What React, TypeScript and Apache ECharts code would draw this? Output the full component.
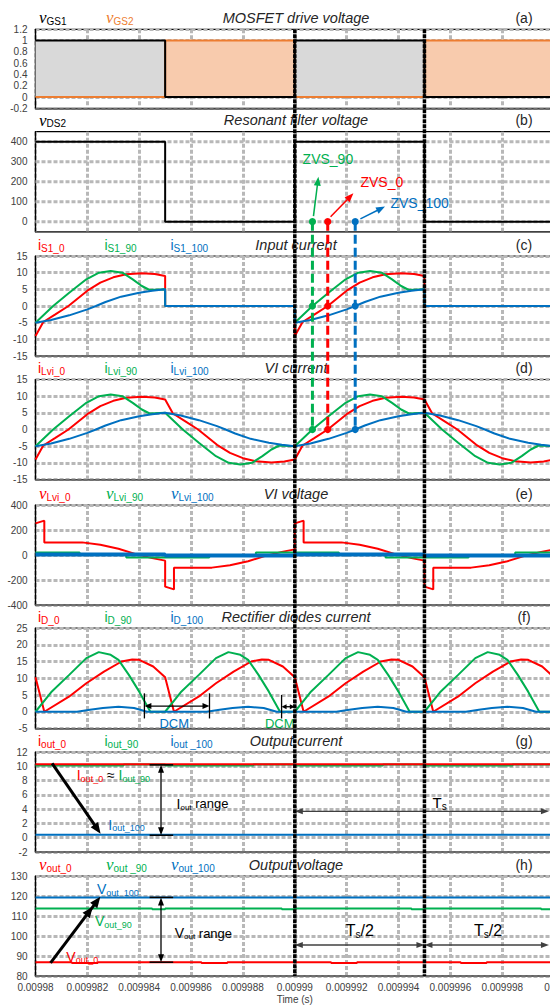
import React, { useEffect, useRef } from 'react';
import * as echarts from 'echarts';

// ---------- time base (µs; axis labels shown in seconds) ----------
const T0 = 9980;
const T_END = 10000;
const X_STEP = 2;
const PERIOD = 10;
const HALF = 5;

// ---------- (a) MOSFET drive voltage ----------
const tGate = [0, 5, 5, 10];
const vGS1 = [1, 1, 0, 0];
const vGS2 = [0, 0, 1, 1];

// ---------- (b) Resonant filter voltage ----------
const vDS2 = [400, 400, 0, 0];
const vDS2Ticks = [0, 100, 200, 300, 400];

// ---------- (c)/(d) VI current (one period) ----------
const tILvi0 = [0, 0.3, 0.75, 1.27, 2, 2.5, 3, 3.5, 4.1, 4.6, 5, 5.3, 5.75, 6.27, 7, 7.5, 8, 8.5, 9.1, 9.6, 10];
const iLvi0 = [-9, -4.8, -2.6, 0, 4.6, 7, 8.6, 9.5, 9.8, 9.6, 9, 4.8, 2.6, 0, -4.6, -7, -8.6, -9.5, -9.9, -9.6, -9];
const tILvi90 = [0, 0.68, 1.3, 1.96, 2.45, 2.9, 3.35, 3.75, 4.1, 4.4, 5, 5.68, 6.3, 6.96, 7.45, 7.9, 8.35, 8.75, 9.1, 9.4, 10];
const iLvi90 = [-5, 0, 4, 8, 10, 10.5, 10, 8, 6, 4.8, 5, 0, -4, -8, -10, -10.5, -10, -8, -6, -4.8, -5];
const tILvi100 = [0, 0.6, 1.3, 2, 2.33, 2.7, 3.3, 4, 4.5, 5, 5.6, 6.3, 7, 7.33, 7.7, 8.3, 9, 9.5, 10];
const iLvi100 = [-5, -4.2, -2.8, -1, 0, 1.2, 2.8, 4, 4.6, 5, 4.2, 2.8, 1, 0, -1.2, -2.8, -4, -4.6, -5];

// ---------- (e) VI voltage (one period) ----------
const tVLvi0 = [0, 0.34, 0.34, 1.8, 2.5, 3.2, 3.9, 4.5, 5, 5, 5.34, 5.34, 6.8, 7.5, 8.2, 8.9, 9.5, 10];
const vLvi0 = [253, 275, 101, 101, 82, 50, 5, -25, -45, -253, -275, -101, -101, -82, -50, -5, 25, 45];
const tVLvi90 = [0, 1.7, 1.7, 3.5, 3.5, 6.7, 6.7, 8.5, 8.5, 10];
const vLvi90 = [20, 20, 0, 0, -20, -20, 0, 0, 20, 20];
const tVLvi100 = [0, 5, 5, 10];
const vLvi100 = [4, 4, -4, -4];

// ---------- (f) Rectifier diodes current (half period) ----------
const tID0 = [0, 0.34, 1.29, 1.96, 2.64, 3.32, 3.73, 4.0, 4.54, 5];
const iD0 = [10.3, 0, 4.5, 8.5, 12, 15, 15.6, 15.5, 13.5, 10.3];
const tID90 = [0, 0.6, 1.3, 1.96, 2.44, 2.9, 3.2, 3.6, 4.0, 4.43, 5];
const iD90 = [0, 5.8, 11, 16, 17.8, 17, 15.5, 11, 6, 0, 0];
const tID100 = [0, 1.6, 2.1, 2.6, 3.2, 3.8, 4.3, 5];
const iD100 = [0, 0, 0.6, 1.1, 1.5, 1.1, 0, 0];

// ---------- (g) Output current (half period) ----------
const tOut = [0, 5];
const iOut0 = [10.3, 10.3];
const tIOut90 = [0, 3.4, 3.4, 5];
const iOut90 = [10.12, 10.12, 10.25, 10.25];
const iOut100 = [0.4, 0.4];

// ---------- (h) Output voltage (half period) ----------
const tVOut0 = [0, 1.4, 1.4, 2.4, 2.4, 5];
const vOut0 = [86.9, 86.9, 86.5, 86.5, 86.9, 86.9];
const tVOut90 = [0, 4.5, 4.5, 5];
const vOut90 = [113.8, 113.8, 113.4, 113.4];
const vOut100 = [119.3, 119.3];

// ---------- annotation anchors (data coordinates) ----------
const SWITCH_T = [9990, 9995];
const ZVS = [
  { name: 'ZVS_90', t: 9990.68, c: 'green', from: [9990.72, 28], tip: [9990.91, 225], label: [9990.3, 313] },
  { name: 'ZVS_0', t: 9991.27, c: 'red', from: [9991.38, 25], tip: [9992.26, 142], label: [9992.53, 200] },
  { name: 'ZVS_100', t: 9992.33, c: 'blue', from: [9992.53, 14], tip: [9993.48, 76], label: [9993.69, 95] },
];

const TITLES = ['MOSFET drive voltage', 'Resonant filter voltage', 'Input current', 'VI current', 'VI voltage', 'Rectifier diodes current', 'Output current', 'Output voltage'];
const TAGS = ['(a)', '(b)', '(c)', '(d)', '(e)', '(f)', '(g)', '(h)'];
const LEGENDS = [
  [['v', 'GS1', 'black'], ['v', 'GS2', 'orange']],
  [['v', 'DS2', 'black']],
  [['i', 'S1_0', 'red'], ['i', 'S1_90', 'green'], ['i', 'S1_100', 'blue']],
  [['i', 'Lvi_0', 'red'], ['i', 'Lvi_90', 'green'], ['i', 'Lvi_100', 'blue']],
  [['v', 'Lvi_0', 'red'], ['v', 'Lvi_90', 'green'], ['v', 'Lvi_100', 'blue']],
  [['i', 'D_0', 'red'], ['i', 'D_90', 'green'], ['i', 'D_100', 'blue']],
  [['i', 'out_0', 'red'], ['i', 'out_90', 'green'], ['i', 'out _100', 'blue']],
  [['v', 'out_0', 'red'], ['v', 'out _90', 'green'], ['v', 'out_100', 'blue']],
];

// ---------- layout & style ----------
const W = 550;
const H = 1005;
const GRID_LEFT = 35.5;
const GRID_WIDTH = 518.6;
const GRID_TOP = [29.3, 131.7, 256, 379.5, 505, 628, 752, 876];
const GRID_H = [79, 100, 100, 100, 100, 100.5, 100, 100];
const Y_MIN = [-0.2, -50, -15, -15, -400, -5, -2, 80];
const Y_MAX = [1.2, 450, 15, 15, 400, 25, 12, 130];
const Y_STEP = [0.2, 50, 5, 5, 200, 5, 2, 10];
const COL: Record<string, string> = {
  red: '#ff0000', green: '#00b050', blue: '#0070c0', orange: '#ed7d31', black: '#000000',
};
const GRID_LINE = { color: '#b8b8b8', width: 3, type: [4, 2] };
const FAM = '"Liberation Sans"';
const F_I = `14px ${FAM}`;
const F_V = 'italic 17px "Liberation Serif"';
const F_SUB = `10px ${FAM}`;
const F_SUB9 = `9px ${FAM}`;
const F_TITLE = `italic 14.5px ${FAM}`;

// ---------- helpers ----------
function repeat(ts: number[], vs: number[], period: number) {
  const out: number[][] = [];
  for (let s = T0; s < T_END - 1e-9; s += period) ts.forEach((t, i) => out.push([s + t, vs[i]]));
  return out;
}
function switchOn(ts: number[], vs: number[]) {
  const t: number[] = [];
  const v: number[] = [];
  ts.forEach((x, i) => { if (x <= HALF) { t.push(x); v.push(vs[i]); } });
  t.push(HALF, PERIOD); v.push(0, 0);
  return repeat(t, v, PERIOD);
}
function line(g: number, data: number[][], color: string, width = 2, z = 2, extra: any = {}) {
  return {
    type: 'line', xAxisIndex: g, yAxisIndex: g, data, symbol: 'none', showSymbol: false,
    lineStyle: { color, width }, itemStyle: { color }, z, silent: true, animation: false, ...extra,
  };
}
let _ctx: CanvasRenderingContext2D | null = null;
function tw(text: string, font: string) {
  if (!_ctx) _ctx = document.createElement('canvas').getContext('2d');
  _ctx!.font = font;
  return _ctx!.measureText(text).width;
}
function txt(x: number, y: number, text: string, font: string, fill: string, align = 'left') {
  return {
    type: 'text', z: 100, x, y, silent: true,
    style: { text, font, fill, align, verticalAlign: 'middle', textAlign: align, textVerticalAlign: 'middle' },
  };
}
type Piece = { t: string; f: string; c: string; dy?: number };
function seq(x: number, y: number, pieces: Piece[], center = false) {
  let cx = x;
  if (center) cx -= pieces.reduce((s, p) => s + tw(p.t, p.f), 0) / 2;
  const els: any[] = [];
  pieces.forEach((p) => {
    els.push(txt(cx, y + (p.dy || 0), p.t, p.f, p.c));
    cx += tw(p.t, p.f);
  });
  return els;
}
function seg(a: number[], b: number[], color: string, width: number, dash?: number[]) {
  return {
    type: 'line', z: 100, silent: true,
    shape: { x1: a[0], y1: a[1], x2: b[0], y2: b[1] },
    style: { stroke: color, lineWidth: width, lineDash: dash || null },
  };
}
function head(tip: number[], ux: number, uy: number, hl: number, hw: number, color: string) {
  return {
    type: 'polygon', z: 101, silent: true,
    shape: {
      points: [
        [tip[0], tip[1]],
        [tip[0] - ux * hl - uy * hw / 2, tip[1] - uy * hl + ux * hw / 2],
        [tip[0] - ux * hl + uy * hw / 2, tip[1] - uy * hl - ux * hw / 2],
      ],
    },
    style: { fill: color },
  };
}
function arrow(p1: number[], p2: number[], color: string, width: number, hl: number, hw: number, both = false) {
  const dx = p2[0] - p1[0];
  const dy = p2[1] - p1[1];
  const L = Math.hypot(dx, dy) || 1;
  const ux = dx / L;
  const uy = dy / L;
  const a = both ? [p1[0] + ux * hl * 0.8, p1[1] + uy * hl * 0.8] : p1;
  const b = [p2[0] - ux * hl * 0.8, p2[1] - uy * hl * 0.8];
  const els: any[] = [seg(a, b, color, width), head(p2, ux, uy, hl, hw, color)];
  if (both) els.push(head(p1, -ux, -uy, hl, hw, color));
  return els;
}

function buildOption() {
  const grid = GRID_TOP.map((top, g) => ({
    left: GRID_LEFT, width: GRID_WIDTH, top, height: GRID_H[g],
    outerBoundsMode: 'none', containLabel: false,
    show: true, borderColor: '#000', borderWidth: 1.2, backgroundColor: 'rgba(0,0,0,0)',
  }));
  const xAxis = GRID_TOP.map((_, g) => ({
    type: 'value', gridIndex: g, min: T0, max: T_END, interval: X_STEP,
    axisLine: { show: true, onZero: false, lineStyle: { color: '#595959', width: 1.5 } },
    axisTick: { show: false },
    axisLabel: {
      show: g === 7, fontSize: 10, color: '#404040', margin: 6, fontFamily: 'Liberation Sans',
      formatter: (v: number) => String(+(v / 1e6).toFixed(7)),
    },
    splitLine: { show: true, lineStyle: GRID_LINE },
    name: g === 7 ? 'Time (s)' : '', nameLocation: 'middle', nameGap: 18,
    nameTextStyle: { fontSize: 10, color: '#404040', fontFamily: 'Liberation Sans' },
  }));
  const yAxis = GRID_TOP.map((_, g) => ({
    type: 'value', gridIndex: g, min: Y_MIN[g], max: Y_MAX[g], interval: Y_STEP[g],
    axisLine: { show: true, onZero: false, lineStyle: { color: '#000', width: 1.2 } },
    axisTick: { show: false },
    axisLabel: {
      fontSize: 10, color: '#404040', margin: 8, fontFamily: 'Liberation Sans',
      formatter: (v: number) => {
        if (g === 1) return Math.round(v) % 100 === 0 ? String(Math.round(v)) : '';
        if (g === 0) return String(Math.round(v * 10) / 10);
        return String(Math.round(v));
      },
    },
    splitLine: { show: g !== 1, lineStyle: GRID_LINE },
  }));

  const series: any[] = [
    // (a)
    line(0, repeat(tGate, vGS1, PERIOD), '#000', 0, 1, { lineStyle: { opacity: 0, width: 0 }, areaStyle: { color: '#d9d9d9', opacity: 1 } }),
    line(0, repeat(tGate, vGS2, PERIOD), COL.orange, 0, 1, { lineStyle: { opacity: 0, width: 0 }, areaStyle: { color: '#f8cbad', opacity: 1 } }),
    line(0, repeat(tGate, vGS2, PERIOD), COL.orange, 2, 3),
    line(0, repeat(tGate, vGS1, PERIOD), '#000', 2, 3),
    // (b)
    ...vDS2Ticks.map((v) => line(1, [[T0, v], [T_END, v]], GRID_LINE.color, 3, 1, { lineStyle: { ...GRID_LINE } })),
    line(1, repeat(tGate, vDS2, PERIOD), '#000', 2, 3),
    // (c)
    line(2, switchOn(tILvi0, iLvi0), COL.red),
    line(2, switchOn(tILvi90, iLvi90), COL.green),
    line(2, switchOn(tILvi100, iLvi100), COL.blue),
    // (d)
    line(3, repeat(tILvi0, iLvi0, PERIOD), COL.red),
    line(3, repeat(tILvi90, iLvi90, PERIOD), COL.green),
    line(3, repeat(tILvi100, iLvi100, PERIOD), COL.blue),
    // (e)
    line(4, repeat(tVLvi0, vLvi0, PERIOD), COL.red),
    line(4, repeat(tVLvi90, vLvi90, PERIOD), COL.green),
    line(4, repeat(tVLvi100, vLvi100, PERIOD), COL.blue, 4),
    // (f)
    line(5, repeat(tID0, iD0, HALF), COL.red),
    line(5, repeat(tID90, iD90, HALF), COL.green),
    line(5, repeat(tID100, iD100, HALF), COL.blue),
    // (g)
    line(6, repeat(tIOut90, iOut90, HALF), COL.green),
    line(6, repeat(tOut, iOut0, HALF), COL.red),
    line(6, repeat(tOut, iOut100, HALF), COL.blue),
    // (h)
    line(7, repeat(tVOut0, vOut0, HALF), COL.red),
    line(7, repeat(tVOut90, vOut90, HALF), COL.green),
    line(7, repeat(tOut, vOut100, HALF), COL.blue),
  ];

  return {
    animation: false,
    textStyle: { fontFamily: 'Liberation Sans' },
    grid, xAxis, yAxis, series,
  };
}

function buildGraphics(P: (g: number, t: number, v: number) => number[]) {
  const els: any[] = [];
  const LEG_X_I = [38, 104.5, 170.5];
  const LEG_X_V = [39, 106, 171];

  // headers: legend-like labels, titles, panel tags
  GRID_TOP.forEach((top, g) => {
    const y = top - 11.5;
    els.push(txt(296, y, TITLES[g], F_TITLE, '#262626', 'center'));
    els.push(txt(524, y, TAGS[g], F_I, '#262626', 'center'));
    LEGENDS[g].forEach(([m, s, c], k) => {
      const isV = m === 'v';
      const x = (isV ? LEG_X_V : LEG_X_I)[k];
      els.push(...seq(x, y, [
        { t: m, f: isV ? F_V : F_I, c: COL[c] },
        { t: s, f: F_SUB, c: COL[c], dy: 3.5 },
      ]));
    });
  });

  // ZVS stems, dots, arrows, labels
  ZVS.forEach((z) => {
    const c = COL[z.c];
    const a = P(1, z.t, 0);
    const b = P(2, z.t, 0);
    const d = P(3, z.t, 0);
    els.push(seg(a, d, c, 3, [9, 4]));
    [a, b, d].forEach((p) => els.push({ type: 'circle', z: 101, silent: true, shape: { cx: p[0], cy: p[1], r: 3.6 }, style: { fill: c } }));
    els.push(...arrow(P(1, z.from[0], z.from[1]), P(1, z.tip[0], z.tip[1]), c, 1.5, 9, 7));
    const lp = P(1, z.label[0], z.label[1]);
    els.push(txt(lp[0], lp[1], z.name, F_I, c));
  });

  // (f) DCM marks
  const bar = (g: number, t: number, v1: number, v2: number) => seg(P(g, t, v1), P(g, t, v2), '#000', 1.3);
  els.push(bar(5, 9984.2, 5.5, -2), bar(5, 9986.71, 5.5, -2));
  els.push(...arrow(P(5, 9984.2, 1.7), P(5, 9986.71, 1.7), '#000', 1.3, 7, 6, true));
  const dl = P(5, 9985.35, -3.6);
  els.push(txt(dl[0], dl[1], 'DCM', `13px ${FAM}`, COL.blue, 'center'));
  els.push(bar(5, 9989.49, 5, -2));
  els.push(...arrow(P(5, 9989.49, 1.5), P(5, 9990, 1.5), '#000', 1.3, 5, 5, true));
  const dg = P(5, 9989.42, -3.6);
  els.push(txt(dg[0], dg[1], 'DCM', `13px ${FAM}`, COL.green, 'center'));

  // (g) output current annotations
  els.push(...arrow(P(6, 9980.64, 10.4), P(6, 9982.51, 0.56), '#000', 3, 11, 9));
  const g1 = P(6, 9981.59, 8.74);
  els.push(...seq(g1[0], g1[1], [
    { t: 'I', f: F_I, c: COL.red },
    { t: 'out_0', f: F_SUB9, c: COL.red, dy: 3.5 },
    { t: ' ≈ ', f: F_I, c: '#000' },
    { t: 'I', f: F_I, c: COL.green },
    { t: 'out_90', f: F_SUB9, c: COL.green, dy: 3.5 },
  ]));
  const g2 = P(6, 9982.81, 1.8);
  els.push(...seq(g2[0], g2[1], [
    { t: 'I', f: F_I, c: COL.blue },
    { t: 'out_100', f: F_SUB9, c: COL.blue, dy: 3.5 },
  ]));
  const rangeT = [9984.4, 9984.84, 9985.31];
  const rangeMarks = (g: number, hi: number, lo: number) => {
    els.push(seg(P(g, rangeT[0], hi), P(g, rangeT[2], hi), '#000', 1.5));
    els.push(seg(P(g, rangeT[0], lo), P(g, rangeT[2], lo), '#000', 1.5));
    els.push(...arrow(P(g, rangeT[1], hi), P(g, rangeT[1], lo), '#000', 1.3, 8, 6, true));
  };
  rangeMarks(6, 10.2, 0.35);
  const g3 = P(6, 9985.44, 4.77);
  els.push(...seq(g3[0], g3[1], [
    { t: 'I', f: F_I, c: '#000' },
    { t: 'out', f: `8px ${FAM}`, c: '#000', dy: 3.5 },
    { t: ' range', f: `13px ${FAM}`, c: '#000' },
  ]));
  els.push(...arrow(P(6, SWITCH_T[0], 3.7), P(6, 9999.8, 3.7), '#404040', 1.3, 8, 6, true));
  const g4 = P(6, 9995.31, 5.0);
  els.push(...seq(g4[0], g4[1], [
    { t: 'T', f: `15px ${FAM}`, c: '#000' },
    { t: 's', f: `10px ${FAM}`, c: '#000', dy: 4 },
  ]));

  // (h) output voltage annotations
  const h0 = P(7, 9980.58, 86.6);
  const h1 = P(7, 9982.5, 119.6);
  els.push(...arrow(h0, h1, '#000', 3, 11, 9));
  const yMid = P(7, T0, 114.6)[1];
  const f = (yMid - h0[1]) / (h1[1] - h0[1]);
  const L = Math.hypot(h1[0] - h0[0], h1[1] - h0[1]);
  els.push(head([h0[0] + f * (h1[0] - h0[0]), yMid], (h1[0] - h0[0]) / L, (h1[1] - h0[1]) / L, 11, 9, '#000'));
  const vl = (t: number, v: number, c: string, s: string) => {
    const p = P(7, t, v);
    els.push(...seq(p[0], p[1], [
      { t: 'V', f: F_I, c },
      { t: s, f: F_SUB9, c, dy: 3.5 },
    ]));
  };
  vl(9982.37, 123.35, COL.blue, 'out_100');
  vl(9982.29, 107.5, COL.green, 'out_90');
  vl(9981.19, 89.65, COL.red, 'out_0');
  rangeMarks(7, 119.3, 86.9);
  const h3 = P(7, 9985.37, 101.35);
  els.push(...seq(h3[0], h3[1], [
    { t: 'V', f: F_I, c: '#000' },
    { t: 'out', f: `8px ${FAM}`, c: '#000', dy: 3.5 },
    { t: ' range', f: `13px ${FAM}`, c: '#000' },
  ]));
  els.push(...arrow(P(7, SWITCH_T[0], 95.5), P(7, SWITCH_T[1], 95.5), '#404040', 1.3, 8, 6, true));
  els.push(...arrow(P(7, SWITCH_T[1], 95.5), P(7, 9999.8, 95.5), '#404040', 1.3, 8, 6, true));
  [9992.51, 9997.45].forEach((t) => {
    const p = P(7, t, 103);
    els.push(...seq(p[0], p[1], [
      { t: 'T', f: `16px ${FAM}`, c: '#000' },
      { t: 's', f: `10px ${FAM}`, c: '#000', dy: 4 },
      { t: '/2', f: `16px ${FAM}`, c: '#000' },
    ], true));
  });

  // switching instants: thick dotted black lines across all panels
  SWITCH_T.forEach((t) => {
    const top = P(0, t, Y_MAX[0]);
    const bot = P(7, t, Y_MIN[7]);
    els.push({ ...seg(top, bot, '#000', 3.5, [4, 1]), z: 102 });
  });

  return els;
}

export default function App() {
  const ref = useRef<HTMLDivElement>(null);
  useEffect(() => {
    const el = ref.current!;
    const chart = echarts.init(el, undefined, { renderer: 'svg', width: W, height: H });
    chart.setOption(buildOption() as any);
    const P = (g: number, t: number, v: number) => chart.convertToPixel({ gridIndex: g } as any, [t, v]) as number[];
    chart.setOption({ graphic: { elements: buildGraphics(P) } } as any);
    return () => chart.dispose();
  }, []);
  return <div ref={ref} style={{ position: 'absolute', left: 0, top: 0, width: W, height: H }} />;
}
